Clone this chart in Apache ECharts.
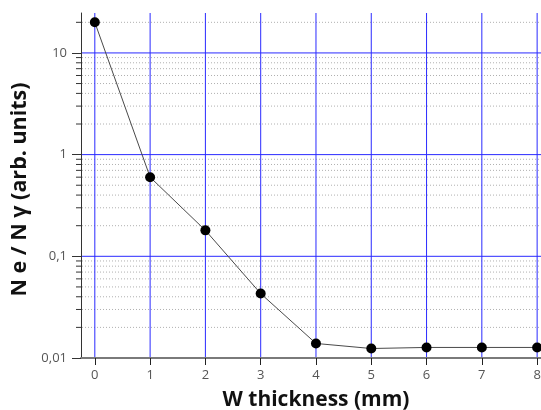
<!DOCTYPE html>
<html>
<head>
<meta charset="utf-8">
<script src="https://cdn.jsdelivr.net/npm/echarts@6/dist/echarts.min.js"></script>
<style>
  html, body { margin: 0; padding: 0; background: #fff; }
  #chart { width: 541px; height: 410px; }
</style>
</head>
<body>
<div id="chart"></div>
<script>
// Electron / photon ratio behind a tungsten absorber
const thickness = [0, 1, 2, 3, 4, 5, 6, 7, 8];
const ratio = [20, 0.6, 0.18, 0.043, 0.0139, 0.0124, 0.0127, 0.0127, 0.0127];

// axis ticks
const xTicks = [0, 1, 2, 3, 4, 5, 6, 7, 8];
const yMajor = [0.01, 0.1, 1, 10];
const yMinor = [0.02, 0.03, 0.04, 0.05, 0.06, 0.07, 0.08, 0.09,
                0.2, 0.3, 0.4, 0.5, 0.6, 0.7, 0.8, 0.9,
                2, 3, 4, 5, 6, 7, 8, 9, 20];

const X_MIN = -0.25, X_MAX = 8.07;
const Y_MIN = 0.01, Y_MAX = 24.7;
const FONT = 'Open Sans';
const GRID_BLUE = '#2a2aff';

const chart = echarts.init(document.getElementById('chart'), null, { renderer: 'canvas' });

// horizontal grid line (+ optional outward tick on the y axis) at a y value
function hLine(style, tickLen) {
  return function (params, api) {
    const v = api.value(0);
    const a = api.coord([X_MIN, v]);
    const b = api.coord([X_MAX, v]);
    const children = [{
      type: 'line',
      shape: { x1: a[0] + 1, y1: a[1], x2: b[0], y2: b[1] },
      style: style
    }];
    if (tickLen) {
      children.push({
        type: 'line',
        shape: { x1: a[0] - tickLen, y1: a[1], x2: a[0], y2: a[1] },
        style: { stroke: '#333', lineWidth: 1 }
      });
    }
    return { type: 'group', children: children };
  };
}

// vertical grid line at an x value
function vLine(params, api) {
  const v = api.value(0);
  const a = api.coord([v, Y_MIN]);
  const b = api.coord([v, Y_MAX]);
  return {
    type: 'line',
    shape: { x1: a[0], y1: a[1] - 1, x2: b[0], y2: b[1] },
    style: { stroke: GRID_BLUE, lineWidth: 1 }
  };
}

chart.setOption({
  animation: false,
  backgroundColor: '#fff',
  grid: { left: 81, right: 0, top: 13, bottom: 52, containLabel: false, outerBoundsMode: 'none' },
  xAxis: {
    type: 'value',
    min: X_MIN,
    max: X_MAX,
    name: 'W thickness (mm)',
    nameLocation: 'middle',
    nameGap: 32,
    nameTextStyle: { fontFamily: FONT, fontSize: 21, fontWeight: 'bold', color: '#111', padding: [0, 0, 0, 10] },
    axisLine: { show: true, onZero: false, lineStyle: { color: '#7a7a7a', width: 2 } },
    axisTick: { show: true, customValues: xTicks, length: 7, lineStyle: { color: '#222' } },
    axisLabel: { customValues: xTicks, margin: 11, fontFamily: FONT, fontSize: 13, color: '#555' },
    splitLine: { show: false }
  },
  yAxis: {
    type: 'log',
    logBase: 10,
    min: Y_MIN,
    max: Y_MAX,
    name: 'N e / N γ (arb. units)',
    nameLocation: 'middle',
    nameGap: 37,
    nameTextStyle: { fontFamily: FONT, fontSize: 21.5, fontWeight: 'bold', color: '#111', padding: [0, 8, 0, 0] },
    axisLine: { show: true, onZero: false, lineStyle: { color: '#333', width: 1 } },
    axisTick: { show: true, customValues: yMajor, length: 9, lineStyle: { color: '#333' } },
    axisLabel: {
      customValues: yMajor,
      margin: 14,
      fontFamily: FONT, fontSize: 13, color: '#555',
      formatter: function (v) { return String(+v.toPrecision(6)).replace('.', ','); }
    },
    splitLine: { show: false }
  },
  series: [
    {
      type: 'custom',
      name: 'minor grid',
      silent: true,
      clip: false,
      z: 1,
      data: yMinor.map(v => [v]),
      renderItem: hLine({ stroke: '#b0b0b0', lineWidth: 1, lineDash: [1, 2] }, 5)
    },
    {
      type: 'custom',
      name: 'major grid',
      silent: true,
      clip: false,
      z: 2,
      data: yMajor.slice(1).map(v => [v]),
      renderItem: hLine({ stroke: GRID_BLUE, lineWidth: 1 }, 0)
    },
    {
      type: 'custom',
      name: 'x grid',
      silent: true,
      clip: false,
      z: 2,
      data: xTicks.map(v => [v]),
      renderItem: vLine
    },
    {
      type: 'line',
      name: 'ratio',
      z: 5,
      data: thickness.map((t, i) => [t, ratio[i]]),
      symbol: 'circle',
      symbolSize: 10,
      clip: false,
      itemStyle: { color: '#000' },
      lineStyle: { color: '#4a4a4a', width: 1 }
    }
  ]
});
</script>
</body>
</html>
